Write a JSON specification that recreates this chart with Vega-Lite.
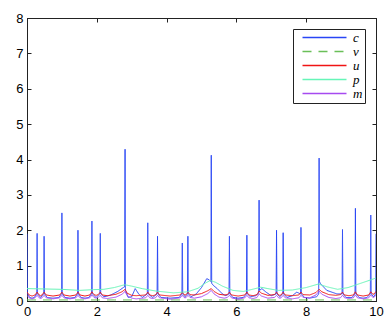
{
"$schema": "https://vega.github.io/schema/vega-lite/v6.json",
"width": 349, "height": 283,
"autosize": {"type": "none"},
"padding": {"left": 27, "top": 18, "right": 14, "bottom": 20},
"background": "white",
"config": {
  "view": {"stroke": "#222", "strokeWidth": 1},
  "axis": {"title": null, "grid": false, "domainColor": "#222", "tickColor": "#222", "tickSize": -4, "labelFont": "Liberation Sans", "labelFontSize": 13, "labelColor": "black", "labelPadding": 8, "labelFlush": false},
  "legend": {"title": null, "orient": "top-right", "offset": 11, "strokeColor": "#222", "fillColor": "white", "padding": 2, "cornerRadius": 0, "symbolType": "M-4,0H4", "symbolSize": 121, "symbolOffset": 23, "symbolStrokeWidth": 1.5, "labelFont": "Liberation Serif", "labelFontStyle": "italic", "labelFontSize": 13, "labelColor": "black", "rowPadding": 0, "labelOffset": 22}
},
"data": {"values": [
{"s":"c","x":0,"y":1.9},{"s":"c","x":0.012,"y":0.2},{"s":"c","x":0.08,"y":0.1},{"s":"c","x":0.145,"y":0.08},{"s":"c","x":0.21,"y":0.1},{"s":"c","x":0.278,"y":0.2},{"s":"c","x":0.29,"y":1.91},{"s":"c","x":0.302,"y":0.2},{"s":"c","x":0.39,"y":0.1},{"s":"c","x":0.478,"y":0.2},{"s":"c","x":0.49,"y":1.83},{"s":"c","x":0.502,"y":0.2},{"s":"c","x":0.58,"y":0.1},{"s":"c","x":0.745,"y":0.08},{"s":"c","x":0.91,"y":0.1},{"s":"c","x":0.988,"y":0.2},{"s":"c","x":1.0,"y":2.49},{"s":"c","x":1.012,"y":0.2},{"s":"c","x":1.09,"y":0.1},{"s":"c","x":1.23,"y":0.08},{"s":"c","x":1.37,"y":0.1},{"s":"c","x":1.448,"y":0.2},{"s":"c","x":1.46,"y":2.0},{"s":"c","x":1.472,"y":0.2},{"s":"c","x":1.55,"y":0.1},{"s":"c","x":1.66,"y":0.08},{"s":"c","x":1.77,"y":0.1},{"s":"c","x":1.848,"y":0.2},{"s":"c","x":1.86,"y":2.26},{"s":"c","x":1.872,"y":0.2},{"s":"c","x":1.98,"y":0.1},{"s":"c","x":2.088,"y":0.2},{"s":"c","x":2.1,"y":1.91},{"s":"c","x":2.112,"y":0.2},{"s":"c","x":2.2,"y":0.12},{"s":"c","x":2.38,"y":0.16},{"s":"c","x":2.6,"y":0.27},{"s":"c","x":2.76,"y":0.38},{"s":"c","x":2.798,"y":0.4},{"s":"c","x":2.81,"y":4.29},{"s":"c","x":2.822,"y":0.3},{"s":"c","x":2.9,"y":0.1},{"s":"c","x":3.0,"y":0.12},{"s":"c","x":3.1,"y":0.35},{"s":"c","x":3.2,"y":0.2},{"s":"c","x":3.3,"y":0.1},{"s":"c","x":3.448,"y":0.2},{"s":"c","x":3.46,"y":2.21},{"s":"c","x":3.472,"y":0.2},{"s":"c","x":3.6,"y":0.1},{"s":"c","x":3.728,"y":0.2},{"s":"c","x":3.74,"y":1.83},{"s":"c","x":3.752,"y":0.2},{"s":"c","x":3.84,"y":0.1},{"s":"c","x":4.1,"y":0.08},{"s":"c","x":4.36,"y":0.1},{"s":"c","x":4.438,"y":0.2},{"s":"c","x":4.45,"y":1.64},{"s":"c","x":4.462,"y":0.2},{"s":"c","x":4.53,"y":0.12},{"s":"c","x":4.598,"y":0.2},{"s":"c","x":4.61,"y":1.83},{"s":"c","x":4.622,"y":0.2},{"s":"c","x":4.7,"y":0.12},{"s":"c","x":4.85,"y":0.2},{"s":"c","x":5.0,"y":0.38},{"s":"c","x":5.15,"y":0.63},{"s":"c","x":5.22,"y":0.6},{"s":"c","x":5.268,"y":0.55},{"s":"c","x":5.28,"y":4.12},{"s":"c","x":5.292,"y":0.5},{"s":"c","x":5.34,"y":0.44},{"s":"c","x":5.45,"y":0.35},{"s":"c","x":5.6,"y":0.2},{"s":"c","x":5.7,"y":0.15},{"s":"c","x":5.788,"y":0.2},{"s":"c","x":5.8,"y":1.83},{"s":"c","x":5.812,"y":0.2},{"s":"c","x":5.9,"y":0.1},{"s":"c","x":6.05,"y":0.08},{"s":"c","x":6.2,"y":0.1},{"s":"c","x":6.288,"y":0.2},{"s":"c","x":6.3,"y":1.86},{"s":"c","x":6.312,"y":0.2},{"s":"c","x":6.4,"y":0.12},{"s":"c","x":6.55,"y":0.15},{"s":"c","x":6.638,"y":0.22},{"s":"c","x":6.65,"y":2.85},{"s":"c","x":6.662,"y":0.3},{"s":"c","x":6.73,"y":0.35},{"s":"c","x":6.85,"y":0.25},{"s":"c","x":7.0,"y":0.15},{"s":"c","x":7.138,"y":0.2},{"s":"c","x":7.15,"y":2.0},{"s":"c","x":7.162,"y":0.2},{"s":"c","x":7.24,"y":0.12},{"s":"c","x":7.328,"y":0.2},{"s":"c","x":7.34,"y":1.93},{"s":"c","x":7.352,"y":0.2},{"s":"c","x":7.45,"y":0.1},{"s":"c","x":7.6,"y":0.15},{"s":"c","x":7.73,"y":0.25},{"s":"c","x":7.838,"y":0.2},{"s":"c","x":7.85,"y":2.08},{"s":"c","x":7.862,"y":0.2},{"s":"c","x":7.95,"y":0.1},{"s":"c","x":8.1,"y":0.08},{"s":"c","x":8.3,"y":0.12},{"s":"c","x":8.358,"y":0.2},{"s":"c","x":8.37,"y":4.04},{"s":"c","x":8.382,"y":0.55},{"s":"c","x":8.4,"y":0.5},{"s":"c","x":8.59,"y":0.3},{"s":"c","x":8.88,"y":0.2},{"s":"c","x":9.028,"y":0.2},{"s":"c","x":9.04,"y":2.02},{"s":"c","x":9.052,"y":0.2},{"s":"c","x":9.14,"y":0.1},{"s":"c","x":9.31,"y":0.1},{"s":"c","x":9.398,"y":0.2},{"s":"c","x":9.41,"y":2.62},{"s":"c","x":9.422,"y":0.2},{"s":"c","x":9.52,"y":0.1},{"s":"c","x":9.63,"y":0.08},{"s":"c","x":9.74,"y":0.1},{"s":"c","x":9.838,"y":0.2},{"s":"c","x":9.85,"y":2.43},{"s":"c","x":9.862,"y":0.2},{"s":"c","x":9.93,"y":0.12},{"s":"c","x":9.988,"y":0.2},{"s":"c","x":10,"y":1.9},
{"s":"v","x":0,"y":0.03},{"s":"v","x":2.5,"y":0.03},{"s":"v","x":5,"y":0.03},{"s":"v","x":7.5,"y":0.03},{"s":"v","x":10,"y":0.03},
{"s":"u","x":0,"y":0.25},{"s":"u","x":0.06,"y":0.17},{"s":"u","x":0.145,"y":0.14},{"s":"u","x":0.23,"y":0.17},{"s":"u","x":0.29,"y":0.25},{"s":"u","x":0.35,"y":0.17},{"s":"u","x":0.39,"y":0.15},{"s":"u","x":0.43,"y":0.17},{"s":"u","x":0.49,"y":0.25},{"s":"u","x":0.55,"y":0.17},{"s":"u","x":0.745,"y":0.14},{"s":"u","x":0.94,"y":0.17},{"s":"u","x":1.0,"y":0.25},{"s":"u","x":1.06,"y":0.17},{"s":"u","x":1.23,"y":0.14},{"s":"u","x":1.4,"y":0.17},{"s":"u","x":1.46,"y":0.25},{"s":"u","x":1.52,"y":0.17},{"s":"u","x":1.66,"y":0.14},{"s":"u","x":1.8,"y":0.17},{"s":"u","x":1.86,"y":0.26},{"s":"u","x":1.92,"y":0.18},{"s":"u","x":1.98,"y":0.16},{"s":"u","x":2.04,"y":0.18},{"s":"u","x":2.1,"y":0.25},{"s":"u","x":2.16,"y":0.17},{"s":"u","x":2.3,"y":0.15},{"s":"u","x":2.55,"y":0.19},{"s":"u","x":2.72,"y":0.26},{"s":"u","x":2.81,"y":0.33},{"s":"u","x":2.87,"y":0.22},{"s":"u","x":3.0,"y":0.16},{"s":"u","x":3.13,"y":0.15},{"s":"u","x":3.4,"y":0.17},{"s":"u","x":3.46,"y":0.25},{"s":"u","x":3.52,"y":0.17},{"s":"u","x":3.6,"y":0.15},{"s":"u","x":3.68,"y":0.17},{"s":"u","x":3.74,"y":0.25},{"s":"u","x":3.8,"y":0.17},{"s":"u","x":4.1,"y":0.14},{"s":"u","x":4.39,"y":0.17},{"s":"u","x":4.45,"y":0.25},{"s":"u","x":4.5,"y":0.18},{"s":"u","x":4.53,"y":0.17},{"s":"u","x":4.56,"y":0.18},{"s":"u","x":4.61,"y":0.25},{"s":"u","x":4.67,"y":0.18},{"s":"u","x":4.8,"y":0.17},{"s":"u","x":5.0,"y":0.21},{"s":"u","x":5.18,"y":0.29},{"s":"u","x":5.28,"y":0.35},{"s":"u","x":5.36,"y":0.27},{"s":"u","x":5.5,"y":0.19},{"s":"u","x":5.65,"y":0.17},{"s":"u","x":5.74,"y":0.18},{"s":"u","x":5.8,"y":0.25},{"s":"u","x":5.86,"y":0.17},{"s":"u","x":6.05,"y":0.14},{"s":"u","x":6.24,"y":0.17},{"s":"u","x":6.3,"y":0.25},{"s":"u","x":6.36,"y":0.17},{"s":"u","x":6.48,"y":0.15},{"s":"u","x":6.59,"y":0.18},{"s":"u","x":6.65,"y":0.28},{"s":"u","x":6.72,"y":0.22},{"s":"u","x":6.9,"y":0.16},{"s":"u","x":7.09,"y":0.18},{"s":"u","x":7.15,"y":0.25},{"s":"u","x":7.21,"y":0.17},{"s":"u","x":7.245,"y":0.16},{"s":"u","x":7.28,"y":0.17},{"s":"u","x":7.34,"y":0.25},{"s":"u","x":7.4,"y":0.17},{"s":"u","x":7.6,"y":0.15},{"s":"u","x":7.79,"y":0.17},{"s":"u","x":7.85,"y":0.25},{"s":"u","x":7.91,"y":0.18},{"s":"u","x":8.1,"y":0.17},{"s":"u","x":8.28,"y":0.24},{"s":"u","x":8.37,"y":0.33},{"s":"u","x":8.45,"y":0.26},{"s":"u","x":8.65,"y":0.18},{"s":"u","x":8.85,"y":0.16},{"s":"u","x":8.98,"y":0.18},{"s":"u","x":9.04,"y":0.25},{"s":"u","x":9.1,"y":0.17},{"s":"u","x":9.225,"y":0.15},{"s":"u","x":9.35,"y":0.17},{"s":"u","x":9.41,"y":0.26},{"s":"u","x":9.47,"y":0.17},{"s":"u","x":9.63,"y":0.14},{"s":"u","x":9.79,"y":0.17},{"s":"u","x":9.85,"y":0.26},{"s":"u","x":9.91,"y":0.19},{"s":"u","x":9.95,"y":0.2},{"s":"u","x":10,"y":0.27},
{"s":"p","x":0,"y":0.35},{"s":"p","x":0.5,"y":0.34},{"s":"p","x":1.0,"y":0.33},{"s":"p","x":1.5,"y":0.3},{"s":"p","x":1.9,"y":0.32},{"s":"p","x":2.2,"y":0.33},{"s":"p","x":2.5,"y":0.38},{"s":"p","x":2.8,"y":0.46},{"s":"p","x":3.0,"y":0.42},{"s":"p","x":3.3,"y":0.35},{"s":"p","x":3.7,"y":0.28},{"s":"p","x":4.2,"y":0.23},{"s":"p","x":4.6,"y":0.26},{"s":"p","x":4.9,"y":0.36},{"s":"p","x":5.1,"y":0.5},{"s":"p","x":5.25,"y":0.58},{"s":"p","x":5.4,"y":0.53},{"s":"p","x":5.6,"y":0.42},{"s":"p","x":5.9,"y":0.3},{"s":"p","x":6.2,"y":0.27},{"s":"p","x":6.5,"y":0.34},{"s":"p","x":6.7,"y":0.39},{"s":"p","x":6.9,"y":0.35},{"s":"p","x":7.2,"y":0.3},{"s":"p","x":7.6,"y":0.31},{"s":"p","x":8.0,"y":0.38},{"s":"p","x":8.35,"y":0.48},{"s":"p","x":8.6,"y":0.4},{"s":"p","x":8.9,"y":0.33},{"s":"p","x":9.2,"y":0.38},{"s":"p","x":9.5,"y":0.48},{"s":"p","x":9.8,"y":0.58},{"s":"p","x":10,"y":0.65},
{"s":"m","x":0,"y":0.16},{"s":"m","x":0.06,"y":0.09},{"s":"m","x":0.145,"y":0.06},{"s":"m","x":0.23,"y":0.09},{"s":"m","x":0.29,"y":0.16},{"s":"m","x":0.35,"y":0.09},{"s":"m","x":0.39,"y":0.07},{"s":"m","x":0.43,"y":0.09},{"s":"m","x":0.49,"y":0.16},{"s":"m","x":0.55,"y":0.09},{"s":"m","x":0.745,"y":0.06},{"s":"m","x":0.94,"y":0.09},{"s":"m","x":1.0,"y":0.16},{"s":"m","x":1.06,"y":0.09},{"s":"m","x":1.23,"y":0.06},{"s":"m","x":1.4,"y":0.09},{"s":"m","x":1.46,"y":0.16},{"s":"m","x":1.52,"y":0.09},{"s":"m","x":1.66,"y":0.06},{"s":"m","x":1.8,"y":0.09},{"s":"m","x":1.86,"y":0.17},{"s":"m","x":1.92,"y":0.1},{"s":"m","x":1.98,"y":0.08},{"s":"m","x":2.04,"y":0.1},{"s":"m","x":2.1,"y":0.16},{"s":"m","x":2.16,"y":0.09},{"s":"m","x":2.3,"y":0.07},{"s":"m","x":2.55,"y":0.11},{"s":"m","x":2.72,"y":0.19},{"s":"m","x":2.81,"y":0.27},{"s":"m","x":2.87,"y":0.15},{"s":"m","x":3.0,"y":0.08},{"s":"m","x":3.13,"y":0.06},{"s":"m","x":3.4,"y":0.09},{"s":"m","x":3.46,"y":0.16},{"s":"m","x":3.52,"y":0.09},{"s":"m","x":3.6,"y":0.07},{"s":"m","x":3.68,"y":0.09},{"s":"m","x":3.74,"y":0.16},{"s":"m","x":3.8,"y":0.09},{"s":"m","x":4.1,"y":0.05},{"s":"m","x":4.39,"y":0.09},{"s":"m","x":4.45,"y":0.16},{"s":"m","x":4.5,"y":0.1},{"s":"m","x":4.53,"y":0.09},{"s":"m","x":4.56,"y":0.1},{"s":"m","x":4.61,"y":0.16},{"s":"m","x":4.67,"y":0.1},{"s":"m","x":4.8,"y":0.08},{"s":"m","x":5.0,"y":0.12},{"s":"m","x":5.18,"y":0.21},{"s":"m","x":5.28,"y":0.3},{"s":"m","x":5.36,"y":0.2},{"s":"m","x":5.5,"y":0.11},{"s":"m","x":5.65,"y":0.08},{"s":"m","x":5.74,"y":0.1},{"s":"m","x":5.8,"y":0.16},{"s":"m","x":5.86,"y":0.09},{"s":"m","x":6.05,"y":0.05},{"s":"m","x":6.24,"y":0.09},{"s":"m","x":6.3,"y":0.16},{"s":"m","x":6.36,"y":0.09},{"s":"m","x":6.48,"y":0.07},{"s":"m","x":6.59,"y":0.1},{"s":"m","x":6.65,"y":0.2},{"s":"m","x":6.72,"y":0.14},{"s":"m","x":6.9,"y":0.08},{"s":"m","x":7.09,"y":0.1},{"s":"m","x":7.15,"y":0.16},{"s":"m","x":7.21,"y":0.09},{"s":"m","x":7.245,"y":0.08},{"s":"m","x":7.28,"y":0.09},{"s":"m","x":7.34,"y":0.16},{"s":"m","x":7.4,"y":0.09},{"s":"m","x":7.6,"y":0.06},{"s":"m","x":7.79,"y":0.09},{"s":"m","x":7.85,"y":0.16},{"s":"m","x":7.91,"y":0.1},{"s":"m","x":8.1,"y":0.09},{"s":"m","x":8.28,"y":0.17},{"s":"m","x":8.37,"y":0.28},{"s":"m","x":8.45,"y":0.19},{"s":"m","x":8.65,"y":0.1},{"s":"m","x":8.85,"y":0.07},{"s":"m","x":8.98,"y":0.09},{"s":"m","x":9.04,"y":0.16},{"s":"m","x":9.1,"y":0.09},{"s":"m","x":9.225,"y":0.07},{"s":"m","x":9.35,"y":0.09},{"s":"m","x":9.41,"y":0.17},{"s":"m","x":9.47,"y":0.09},{"s":"m","x":9.63,"y":0.06},{"s":"m","x":9.79,"y":0.09},{"s":"m","x":9.85,"y":0.17},{"s":"m","x":9.91,"y":0.1},{"s":"m","x":9.95,"y":0.11},{"s":"m","x":10,"y":0.17}
]},
"layer": [
  {
    "mark": {"type": "line", "strokeWidth": 1, "clip": true},
    "encoding": {
      "x": {"field": "x", "type": "quantitative", "scale": {"domain": [0, 10], "nice": false, "zero": false}, "axis": {"orient": "bottom", "values": [0, 2, 4, 6, 8, 10]}},
      "y": {"field": "y", "type": "quantitative", "scale": {"domain": [0, 8], "nice": false}, "axis": {"orient": "left", "values": [0, 1, 2, 3, 4, 5, 6, 7, 8]}},
      "color": {"field": "s", "type": "nominal", "scale": {"domain": ["c", "v", "u", "p", "m"], "range": ["#2846f5", "#6abf58", "#f01414", "#66f5b8", "#a64af0"]}, "legend": {"title": null}},
      "strokeDash": {"field": "s", "type": "nominal", "scale": {"domain": ["c", "v", "u", "p", "m"], "range": [[1, 0], [9, 7], [1, 0], [1, 0], [1, 0]]}, "legend": {"title": null}}
    }
  },
  {
    "mark": {"type": "point", "opacity": 0},
    "encoding": {
      "x": {"field": "x", "type": "quantitative", "axis": {"orient": "top", "values": [0, 2, 4, 6, 8, 10], "labels": false}},
      "y": {"field": "y", "type": "quantitative", "axis": {"orient": "right", "values": [0, 1, 2, 3, 4, 5, 6, 7, 8], "labels": false}}
    }
  }
],
"resolve": {"axis": {"x": "independent", "y": "independent"}}
}
